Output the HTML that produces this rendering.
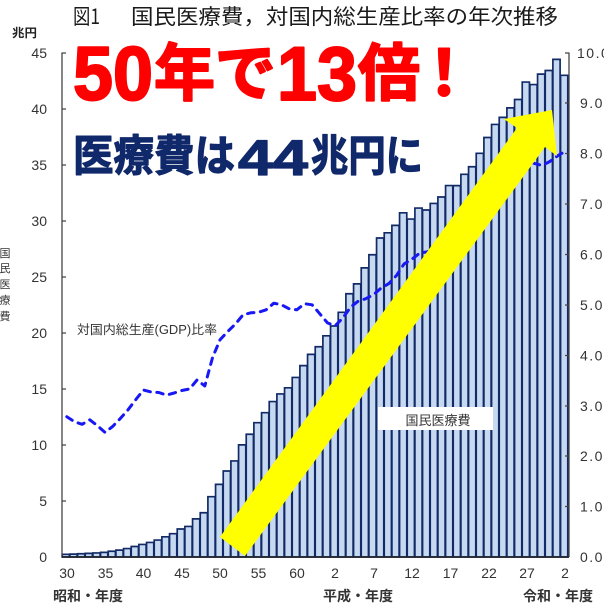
<!DOCTYPE html>
<html><head><meta charset="utf-8">
<style>
html,body{margin:0;padding:0;background:#fff;}
body{width:604px;height:604px;overflow:hidden;}
svg{display:block;}
.ns{vector-effect:non-scaling-stroke;}
text{font-family:"Liberation Sans","Noto Sans CJK JP",sans-serif;}
.cj{font-family:"Noto Sans CJK JP","Liberation Sans",sans-serif;}
</style></head>
<body>
<svg width="604" height="604" viewBox="0 0 604 604" xmlns="http://www.w3.org/2000/svg">
<rect width="604" height="604" fill="#fff"/>
<g transform="translate(62 557) scale(7.6667 -11.2111)">
<path class="ns" fill="#c6d9f1" stroke="#122b66" stroke-width="1.7" d="M.03 0v.239h.94V0z m1 0v.258h.94V0z m1 0v.29h.94V0z m1 0v.323h.94V0z m1 0v.363h.94V0z m1 0v.41h.94V0z m1 0v.513h.94V0z m1 0v.613h.94V0z m1 0v.754h.94V0z m1 0v.939h.94V0z
m1 0v1.122h.94V0z m1 0v1.3h.94V0z m1 0v1.512h.94V0z m1 0v1.802h.94V0z m1 0v2.078h.94V0z m1 0v2.496h.94V0z m1 0v2.725h.94V0z m1 0v3.399h.94V0z m1 0v3.95h.94V0z m1 0v5.379h.94V0z
m1 0v6.478h.94V0z m1 0v7.668h.94V0z m1 0v8.569h.94V0z m1 0v10.004h.94V0z m1 0v10.951h.94V0z m1 0v11.981h.94V0z m1 0v12.871h.94V0z m1 0v13.866h.94V0z m1 0v14.544h.94V0z m1 0v15.093h.94V0z
m1 0v16.016h.94V0z m1 0v17.069h.94V0z m1 0v18.076h.94V0z m1 0v18.755h.94V0z m1 0v19.729h.94V0z m1 0v20.607h.94V0z m1 0v21.826h.94V0z m1 0v23.478h.94V0z m1 0v24.363h.94V0z m1 0v25.791h.94V0z
m1 0v26.958h.94V0z m1 0v28.454h.94V0z m1 0v28.915h.94V0z m1 0v29.582h.94V0z m1 0v30.702h.94V0z m1 0v30.142h.94V0z m1 0v31.123h.94V0z m1 0v30.951h.94V0z m1 0v31.538h.94V0z m1 0v32.111h.94V0z
m1 0v33.129h.94V0z m1 0v33.128h.94V0z m1 0v34.136h.94V0z m1 0v34.808h.94V0z m1 0v36.007h.94V0z m1 0v37.42h.94V0z m1 0v38.585h.94V0z m1 0v39.212h.94V0z m1 0v40.061h.94V0z m1 0v40.807h.94V0z
m1 0v42.364h.94V0z m1 0v42.138h.94V0z m1 0v43.071h.94V0z m1 0v43.395h.94V0z m1 0v44.39h.94V0z m1 0v42.967h.94V0z"/>
</g>
<rect x="378" y="407" width="115" height="23" fill="#fff"/>
<text x="438" y="425" font-size="13" fill="#333" text-anchor="middle" class="cj">国民医療費</text>
<polyline fill="none" stroke="#1818f5" stroke-width="3" stroke-dasharray="6.5 6.5" stroke-linecap="round" stroke-linejoin="round" points="66.8,416.7 74.5,421.8 82.1,424.3 89.8,419.8 97.5,425.8 105.1,432.4 112.8,426.3 120.5,418.3 128.1,409.7 135.8,399.6 143.5,390 151.1,392 158.8,392.5 166.5,395.1 174.1,393 181.8,390.5 189.5,389 197.1,379.9 204.8,386 212.5,357.7 220.1,339.6 227.8,331.5 235.5,323.9 243.1,314.8 250.8,312.8 258.5,312.3 266.1,309.8 273.8,303.2 281.5,304.8 289.1,308.8 296.8,309.8 304.5,303.7 312.1,304.8 319.8,313.8 327.5,322.9 335.1,325.9 342.8,317.9 350.5,307.3 358.1,301.2 365.8,298.7 373.5,294.7 381.1,288.1 388.8,283.6 396.5,275.5 404.1,263.9 411.8,259.3 419.5,253.3 427.1,251.8 434.8,249.3 442.5,246.7 450.1,239.2 457.8,238.2 465.5,231.6 473.1,216.5 480.8,188.7 488.5,176.1 496.1,161 503.8,155.9 511.5,150.9 519.1,155.9 526.8,161 534.5,163.5 542.1,165.5 549.8,161.5 557.5,155.9 565.1,151.4"/>
<text x="77" y="334" font-size="12.5" fill="#333" textLength="140" lengthAdjust="spacingAndGlyphs">対国内総生産(GDP)比率</text>
<polygon fill="#ffff00" points="220,537 517,128 504,119 552,110 557,156 545,147 245,556"/>
<path fill="none" stroke="#444" stroke-width="1.3" d="M62 52.5V557M569 52.5V557M62 53h4M62 109h4M62 165h4M62 221h4M62 277h4M62 333h4M62 389h4M62 445h4M62 501h4M565 53h4M565 103h4M565 153.5h4M565 204h4M565 254.5h4M565 305h4M565 355.5h4M565 406h4M565 456h4M565 506.5h4"/>
<path stroke="#222" stroke-width="1.6" d="M62 557H569"/>
<g font-size="14" fill="#333" text-anchor="end">
<text x="47" y="58">45</text><text x="47" y="114">40</text><text x="47" y="170">35</text><text x="47" y="226">30</text><text x="47" y="282">25</text>
<text x="47" y="338">20</text><text x="47" y="394">15</text><text x="47" y="450">10</text><text x="47" y="506">5</text><text x="47" y="562">0</text>
</g>
<g font-size="14" fill="#333" letter-spacing="1.5">
<text x="577" y="58">10.0</text><text x="580" y="108">9.0</text><text x="580" y="158.5">8.0</text><text x="580" y="209">7.0</text><text x="580" y="259.5">6.0</text>
<text x="580" y="310">5.0</text><text x="580" y="360.5">4.0</text><text x="580" y="411">3.0</text><text x="580" y="461">2.0</text><text x="580" y="511.5">1.0</text><text x="580" y="562">0.0</text>
</g>
<g font-size="14" fill="#333" text-anchor="middle">
<text x="67" y="578">30</text><text x="105.5" y="578">35</text><text x="143.5" y="578">40</text><text x="182" y="578">45</text><text x="220" y="578">50</text><text x="258.5" y="578">55</text><text x="297" y="578">60</text>
<text x="335" y="578">2</text><text x="374" y="578">7</text><text x="412" y="578">12</text><text x="450.5" y="578">17</text><text x="489" y="578">22</text><text x="527" y="578">27</text><text x="565" y="578">2</text>
</g>
<g font-size="14" fill="#333" font-weight="bold" class="cj">
<text x="53" y="601" textLength="70" lengthAdjust="spacingAndGlyphs">昭和・年度</text>
<text x="323" y="601" textLength="70" lengthAdjust="spacingAndGlyphs">平成・年度</text>
<text x="523" y="601" textLength="70" lengthAdjust="spacingAndGlyphs">令和・年度</text>
</g>
<text x="12" y="37" font-size="12" font-weight="bold" fill="#222" class="cj" textLength="25" lengthAdjust="spacingAndGlyphs">兆円</text>
<g font-size="11" fill="#333" text-anchor="middle" class="cj">
<text x="5" y="257">国</text><text x="5" y="272">民</text><text x="5" y="288">医</text><text x="5" y="304">療</text><text x="5" y="320">費</text>
</g>
<text x="73" y="24" font-size="21" fill="#1a1a1a" class="cj" textLength="27" lengthAdjust="spacingAndGlyphs">図1</text>
<text x="131" y="24" font-size="21" fill="#1a1a1a" class="cj" textLength="427" lengthAdjust="spacingAndGlyphs">国民医療費，対国内総生産比率の年次推移</text>
<g fill="#ff0000" stroke="#ff0000" stroke-width="2" stroke-linejoin="round">
<text x="73" y="100" font-size="76" font-weight="bold" textLength="80" lengthAdjust="spacingAndGlyphs">50</text>
<text x="154" y="95" font-size="62" font-weight="bold" class="cj" textLength="122" lengthAdjust="spacingAndGlyphs">年で</text>
<text x="277" y="100" font-size="76" font-weight="bold" textLength="80" lengthAdjust="spacingAndGlyphs">13</text>
<text x="358" y="95" font-size="62" font-weight="bold" class="cj">倍</text>
<text x="413" y="95" font-size="62" font-weight="bold" class="cj">！</text>
</g>
<g fill="#10296b" stroke="#10296b" stroke-width="1.2" stroke-linejoin="round">
<text x="73" y="171" font-size="43" font-weight="bold" class="cj" textLength="162" lengthAdjust="spacingAndGlyphs">医療費は</text>
<text x="238" y="175" font-size="50" font-weight="bold" textLength="70" lengthAdjust="spacingAndGlyphs">44</text>
<text x="311" y="171" font-size="43" font-weight="bold" class="cj" textLength="112" lengthAdjust="spacingAndGlyphs">兆円に</text>
</g>
</svg>
</body></html>
